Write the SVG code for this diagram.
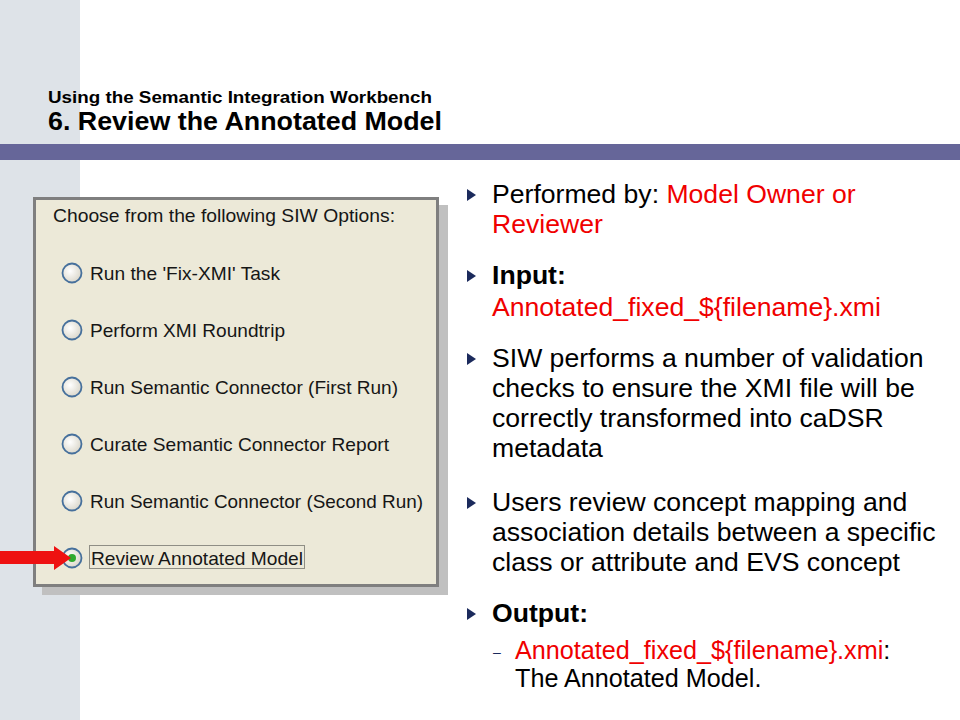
<svg xmlns="http://www.w3.org/2000/svg" width="960" height="720" viewBox="0 0 960 720">
<style>
.hd{font-family:"Liberation Sans",Arial,sans-serif;font-weight:bold;fill:#000}
.dlg{font-family:"Liberation Sans",Arial,sans-serif;font-size:19px;fill:#161616}
.bt{font-family:"Liberation Sans",Arial,sans-serif;font-size:26.6px;fill:#000}
.sub{font-size:25.2px}
.dash{font-size:14px;fill:#1b2a5c}
.red{fill:#f00000}
.b{font-weight:bold}
.radio{fill:url(#rg);stroke:#46709c;stroke-width:1.8}
.bul{fill:#1b2a5c}
</style>
<defs>
<radialGradient id="rg" cx="0.4" cy="0.4" r="0.7">
<stop offset="0" stop-color="#ffffff"/>
<stop offset="1" stop-color="#d6d2c4"/>
</radialGradient>
</defs>
<rect width="960" height="720" fill="#ffffff"/>
<rect x="0" y="0" width="80" height="720" fill="#dee3e8"/>
<rect x="0" y="144" width="960" height="16" fill="#666699"/>
<g id="header">
<text class="hd" x="48" y="103" font-size="17" textLength="384" lengthAdjust="spacingAndGlyphs">Using the Semantic Integration Workbench</text>
<text class="hd" x="48" y="130" font-size="25" textLength="394" lengthAdjust="spacingAndGlyphs">6. Review the Annotated Model</text>
</g>
<g id="dialog">
<rect x="42" y="205" width="406" height="390" fill="#c0c0c0"/>
<rect x="34.5" y="198.5" width="403" height="387" fill="#ece9d8" stroke="#7f7f7f" stroke-width="3"/>
<text class="dlg" x="53" y="222" textLength="342" lengthAdjust="spacingAndGlyphs">Choose from the following SIW Options:</text>
<g id="opt1"><circle class="radio" cx="72" cy="273" r="9.5"/><text class="dlg" x="90" y="280" textLength="190" lengthAdjust="spacingAndGlyphs">Run the 'Fix-XMI' Task</text></g>
<g id="opt2"><circle class="radio" cx="72" cy="330" r="9.5"/><text class="dlg" x="90" y="337" textLength="195" lengthAdjust="spacingAndGlyphs">Perform XMI Roundtrip</text></g>
<g id="opt3"><circle class="radio" cx="72" cy="387" r="9.5"/><text class="dlg" x="90" y="394" textLength="308" lengthAdjust="spacingAndGlyphs">Run Semantic Connector (First Run)</text></g>
<g id="opt4"><circle class="radio" cx="72" cy="444" r="9.5"/><text class="dlg" x="90" y="451" textLength="299" lengthAdjust="spacingAndGlyphs">Curate Semantic Connector Report</text></g>
<g id="opt5"><circle class="radio" cx="72" cy="501" r="9.5"/><text class="dlg" x="90" y="508" textLength="333" lengthAdjust="spacingAndGlyphs">Run Semantic Connector (Second Run)</text></g>
<g id="opt6"><circle class="radio" cx="72" cy="558" r="9.5"/><circle cx="72" cy="558" r="4" fill="#2faa2f"/>
<rect x="89.5" y="545.5" width="215" height="23" fill="none" stroke="#333" stroke-width="1" stroke-dasharray="1 1"/>
<text class="dlg" x="91" y="565" textLength="212" lengthAdjust="spacingAndGlyphs">Review Annotated Model</text></g>
</g>
<g id="connectors">
<polygon points="0,551 54,551 54,546 71,558 54,570 54,564 0,564" fill="#ee1111"/>
</g>
<g id="bullets">
<polygon class="bul" points="467,189 467,201 476,195"/>
<text class="bt" x="492" y="203">Performed by: <tspan class="red">Model Owner or</tspan></text>
<text class="bt red" x="492" y="233">Reviewer</text>
<polygon class="bul" points="467,270 467,282 476,276"/>
<text class="bt b" x="492" y="284">Input:</text>
<text class="bt red" x="492" y="316">Annotated_fixed_${filename}.xmi</text>
<polygon class="bul" points="467,353 467,365 476,359"/>
<text class="bt" x="492" y="367">SIW performs a number of validation</text>
<text class="bt" x="492" y="397">checks to ensure the XMI file will be</text>
<text class="bt" x="492" y="427">correctly transformed into caDSR</text>
<text class="bt" x="492" y="457">metadata</text>
<polygon class="bul" points="467,497 467,509 476,503"/>
<text class="bt" x="492" y="511">Users review concept mapping and</text>
<text class="bt" x="492" y="541">association details between a specific</text>
<text class="bt" x="492" y="571">class or attribute and EVS concept</text>
<polygon class="bul" points="467,608 467,620 476,614"/>
<text class="bt b" x="492" y="622">Output:</text>
<text class="bt dash" x="493" y="657">–</text>
<text class="bt sub" x="515" y="659"><tspan class="red">Annotated_fixed_${filename}.xmi</tspan>:</text>
<text class="bt sub" x="515" y="687">The Annotated Model.</text>
</g>
</svg>
